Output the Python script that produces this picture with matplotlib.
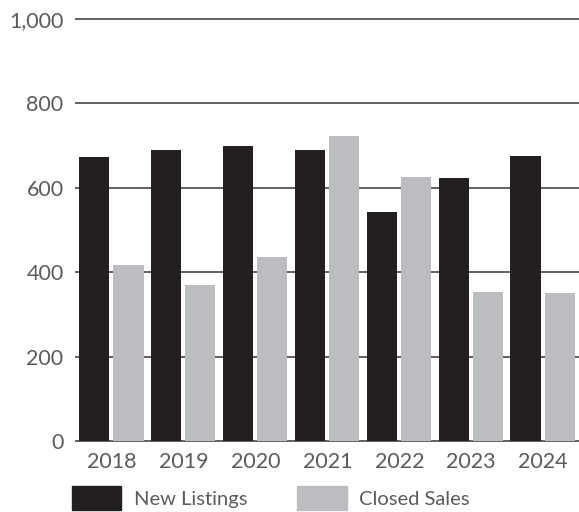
import numpy as np
import matplotlib.pyplot as plt
from matplotlib.patches import Patch

years = ['2018', '2019', '2020', '2021', '2022', '2023', '2024']
new_listings = [673, 690, 699, 690, 543, 623, 675]
closed_sales = [417, 370, 436, 723, 626, 353, 351]
y_ticks = [0, 200, 400, 600, 800, 1000]

dark = '#231f20'
light = '#bcbdc0'
txt = '#5a5b5d'

plt.rcParams['font.family'] = ['Lato', 'DejaVu Sans']

fig = plt.figure(figsize=(5.79, 5.12), dpi=100)
ax = fig.add_axes([76/579, 71/512, 503/579, 422/512])

x = np.arange(len(years))
w = 0.42
ax.bar(x - 0.245, new_listings, width=w, color=dark, zorder=3)
ax.bar(x + 0.23, closed_sales, width=w, color=light, zorder=3)

ax.set_xlim(-0.5, len(years) - 0.5)
ax.set_ylim(0, 1000)
ax.set_yticks(y_ticks)
ax.set_yticklabels(['{:,}'.format(v) for v in y_ticks])
ax.set_xticks(x)
ax.set_xticklabels(years)
for v in y_ticks:
    ax.axhline(v, color='#606060', lw=1.4, zorder=1, clip_on=False)

for s in ax.spines.values():
    s.set_visible(False)
ax.tick_params(axis='both', length=0, labelsize=15.5, colors=txt)
ax.tick_params(axis='y', pad=9)
ax.tick_params(axis='x', pad=8)

handles = [Patch(color=dark, label='New Listings'), Patch(color=light, label='Closed Sales')]
fig.legend(handles=handles, loc='upper left', bbox_to_anchor=(54/579, 1 - 468/512),
           ncol=2, frameon=False, fontsize=14.5, labelcolor=txt,
           handlelength=2.45, handleheight=1.45, handletextpad=0.6, columnspacing=2.5)

fig.savefig('out.png', dpi=100)
